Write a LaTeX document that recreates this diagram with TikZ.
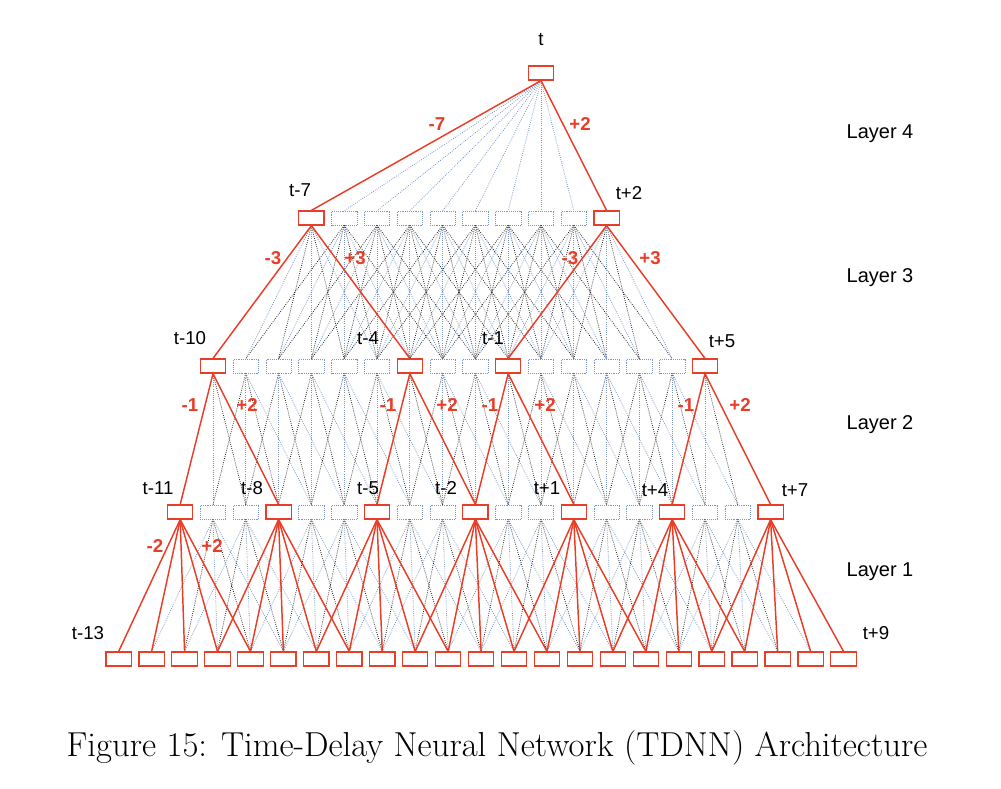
\documentclass[tikz,border=0pt]{standalone}
\usepackage{fontspec}
\setmainfont{Latin Modern Roman}
\newfontfamily\arial{Liberation Sans}
\begin{document}
\definecolor{rd}{RGB}{232,62,40}
\definecolor{bl}{RGB}{120,150,200}
\begin{tikzpicture}[x=0.75pt,y=-0.75pt,
  box/.style={draw=bl,densely dotted,fill=white,minimum width=19pt,minimum height=10.5pt,inner sep=0pt},
  rbox/.style={draw=rd,line width=0.9pt,fill=white,minimum width=19pt,minimum height=10.5pt,inner sep=0pt},
  ed/.style={densely dotted,line width=0.6pt,draw=bl},
  edk/.style={densely dotted,line width=0.6pt,draw=black!85},
  er/.style={draw=rd,line width=1.1pt},
  lab/.style={font=\arial\fontsize{14}{16}\selectfont},
  rl/.style={font=\arial\bfseries\fontsize{14}{16}\selectfont,text=rd},
  ll/.style={font=\arial\fontsize{15}{17}\selectfont}]
\useasboundingbox (0,0) rectangle (1001,789);
\def\ix#1{(480+33*#1)}
% nodes
\foreach \t in {-13,...,9} \node[rbox] (i\t) at ({547+32.95*\t},659) {};
\foreach \t in {-11,...,7}{\pgfmathtruncatemacro\r{mod(\t+11,3)==0}
  \ifnum\r=1 \node[rbox] (a\t) at ({541+32.8*\t},512) {};\else \node[box] (a\t) at ({541+32.8*\t},512) {};\fi}
\foreach \t in {-10,...,5}{\pgfmathtruncatemacro\r{(\t==-10)||(\t==-4)||(\t==-1)||(\t==5)}
  \ifnum\r=1 \node[rbox] (b\t) at ({541+32.8*\t},366) {};\else \node[box] (b\t) at ({541+32.8*\t},366) {};\fi}
\foreach \t in {-7,...,2}{\pgfmathtruncatemacro\r{(\t==-7)||(\t==2)}
  \ifnum\r=1 \node[rbox] (c\t) at ({541+32.8*\t},218) {};\else \node[box] (c\t) at ({541+32.8*\t},218) {};\fi}
\node[rbox] (top) at (541,73) {};
% dotted edges
\foreach \t in {-11,...,7}{\pgfmathtruncatemacro\r{mod(\t+11,3)==0}
  \ifnum\r=0 \foreach \o in {-2,...,2}{\pgfmathtruncatemacro\s{\t+\o}\pgfmathtruncatemacro\k{mod(abs(\o),2)}
    \ifnum\k=0 \draw[ed] (a\t.south) -- (i\s.north);\else \draw[edk] (a\t.south) -- (i\s.north);\fi}\fi}
\foreach \t in {-10,...,5}{\pgfmathtruncatemacro\r{(\t==-10)||(\t==-4)||(\t==-1)||(\t==5)}
  \foreach \o in {-1,...,2}{\pgfmathtruncatemacro\s{\t+\o}\pgfmathtruncatemacro\e{\r*((\o==-1)||(\o==2))}
    \pgfmathtruncatemacro\k{mod(abs(\o),2)}
    \ifnum\e=0 \ifnum\k=0 \draw[ed] (b\t.south) -- (a\s.north);\else \draw[edk] (b\t.south) -- (a\s.north);\fi\fi}}
\foreach \t in {-7,...,2}{\pgfmathtruncatemacro\r{(\t==-7)||(\t==2)}
  \foreach \o in {-3,...,3}{\pgfmathtruncatemacro\s{\t+\o}\pgfmathtruncatemacro\e{\r*(abs(\o)==3)}
    \pgfmathtruncatemacro\k{mod(abs(\o),2)}
    \ifnum\e=0 \ifnum\k=0 \draw[ed] (c\t.south) -- (b\s.north);\else \draw[edk] (c\t.south) -- (b\s.north);\fi\fi}}
\foreach \o in {-6,...,1} \draw[ed] (top.south) -- (c\o.north);
% red edges
\foreach \t in {-11,-8,...,7}{\foreach \o in {-2,...,2}{\pgfmathtruncatemacro\s{\t+\o}\draw[er] (a\t.south) -- (i\s.north);}}
\foreach \t in {-10,-4,-1,5}{\pgfmathtruncatemacro\p{\t-1}\pgfmathtruncatemacro\q{\t+2}
  \draw[er] (a\p.north) -- (b\t.south) -- (a\q.north);}
\draw[er] (b-10.north) -- (c-7.south) -- (b-4.north);
\draw[er] (b-1.north) -- (c2.south) -- (b5.north);
\draw[er] (c-7.north) -- (top.south) -- (c2.north);
% labels
\node[lab] at (541,40) {t};
\node[lab] at (300,190) {t-7}; \node[lab] at (629,193) {t+2};
\node[lab] at (190,338) {t-10}; \node[lab] at (368,338) {t-4};
\node[lab] at (493,338) {t-1}; \node[lab] at (722,341) {t+5};
\node[lab] at (158,488) {t-11}; \node[lab] at (252,488) {t-8};
\node[lab] at (368,488) {t-5}; \node[lab] at (446,488) {t-2};
\node[lab] at (547,488) {t+1}; \node[lab] at (655,490) {t+4};
\node[lab] at (795,490) {t+7};
\node[lab] at (88,633) {t-13}; \node[lab] at (876,633) {t+9};
\node[rl] at (437,124) {-7}; \node[rl] at (580,124) {+2};
\node[rl] at (273,258) {-3}; \node[rl] at (355,258) {+3};
\node[rl] at (570,258) {-3}; \node[rl] at (650,258) {+3};
\node[rl] at (190,405) {-1}; \node[rl] at (247,405) {+2};
\node[rl] at (388,405) {-1}; \node[rl] at (447,405) {+2};
\node[rl] at (490,405) {-1}; \node[rl] at (545,405) {+2};
\node[rl] at (686,405) {-1}; \node[rl] at (740,405) {+2};
\node[rl] at (155,546) {-2}; \node[rl] at (212,546) {+2};
\node[ll] at (880,134) {Layer 4}; \node[ll] at (880,278) {Layer 3};
\node[ll] at (880,425) {Layer 2}; \node[ll] at (880,572) {Layer 1};
\node[font=\fontsize{26}{30}\selectfont] at (497,748) {Figure 15: Time-Delay Neural Network (TDNN) Architecture};
\end{tikzpicture}
\end{document}
